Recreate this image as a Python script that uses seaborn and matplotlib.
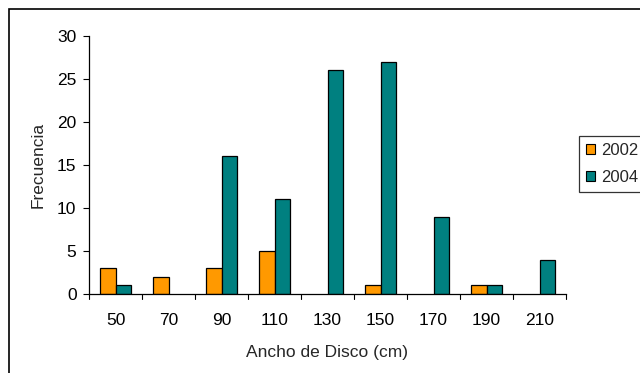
import matplotlib
matplotlib.use("Agg")
import matplotlib.pyplot as plt
import seaborn as sns
import pandas as pd
from matplotlib.patches import Rectangle, Patch

categories = ["50", "70", "90", "110", "130", "150", "170", "190", "210"]
values_2002 = [3, 2, 3, 5, 0, 1, 0, 1, 0]
values_2004 = [1, 0, 16, 11, 26, 27, 9, 1, 4]
series = ["2002", "2004"]
colors = ["#FF9900", "#008080"]

df = pd.DataFrame({
    "Ancho": categories * 2,
    "Frecuencia": values_2002 + values_2004,
    "Año": [series[0]] * len(categories) + [series[1]] * len(categories),
})

sns.set_style("white")
plt.rcParams["font.family"] = ["Liberation Sans", "DejaVu Sans"]

fig = plt.figure(figsize=(6.4, 3.73), dpi=100)
ax = fig.add_axes([89/640, 1 - 294/373, (566 - 89)/640, (294 - 36)/373])

sns.barplot(data=df, x="Ancho", y="Frecuencia", hue="Año", order=categories,
            hue_order=series, palette=colors, width=0.58, edgecolor="black",
            linewidth=0.9, saturation=1, ax=ax, legend=False)

# hide outlines of zero-height bars
for p in ax.patches:
    if p.get_height() == 0:
        p.set_linewidth(0)

ax.set_ylim(0, 30)
ax.set_xlim(-0.5, len(categories) - 0.5)
ax.set_yticks([0, 5, 10, 15, 20, 25, 30])
ax.set_xlabel("Ancho de Disco (cm)", fontsize=12.5, labelpad=12)
ax.set_ylabel("Frecuencia", fontsize=12.5, labelpad=8)
ax.tick_params(axis="both", labelsize=12.5, colors="black")
ax.tick_params(axis="y", length=4, width=0.8, direction="out", left=True, pad=5)
ax.tick_params(axis="x", length=0, pad=14)
# category boundary ticks on x axis
for b in range(len(categories) + 1):
    ax.plot([b - 0.5, b - 0.5], [0, -0.55], color="black", lw=0.8, clip_on=False)

sns.despine(ax=ax)
ax.spines["left"].set_color("black")
ax.spines["bottom"].set_color("black")
ax.spines["left"].set_linewidth(0.9)
ax.spines["bottom"].set_linewidth(0.9)

handles = [Patch(facecolor=c, edgecolor="black", linewidth=0.8, label=s) for c, s in zip(colors, series)]
leg = fig.legend(handles=handles, loc="upper left", bbox_to_anchor=(579/640, 1 - 136/373),
                 frameon=True, fancybox=False, fontsize=12, handlelength=0.55,
                 handleheight=0.55, handletextpad=0.35, borderpad=0.4, labelspacing=0.75,
                 borderaxespad=0)
leg.get_frame().set_edgecolor("black")
leg.get_frame().set_linewidth(0.9)

fig.patches.append(Rectangle((9/640, -0.1), 1, 1.1 - 9/373, transform=fig.transFigure,
                             fill=False, edgecolor="black", linewidth=1.2))

fig.savefig("out.png", dpi=100)
